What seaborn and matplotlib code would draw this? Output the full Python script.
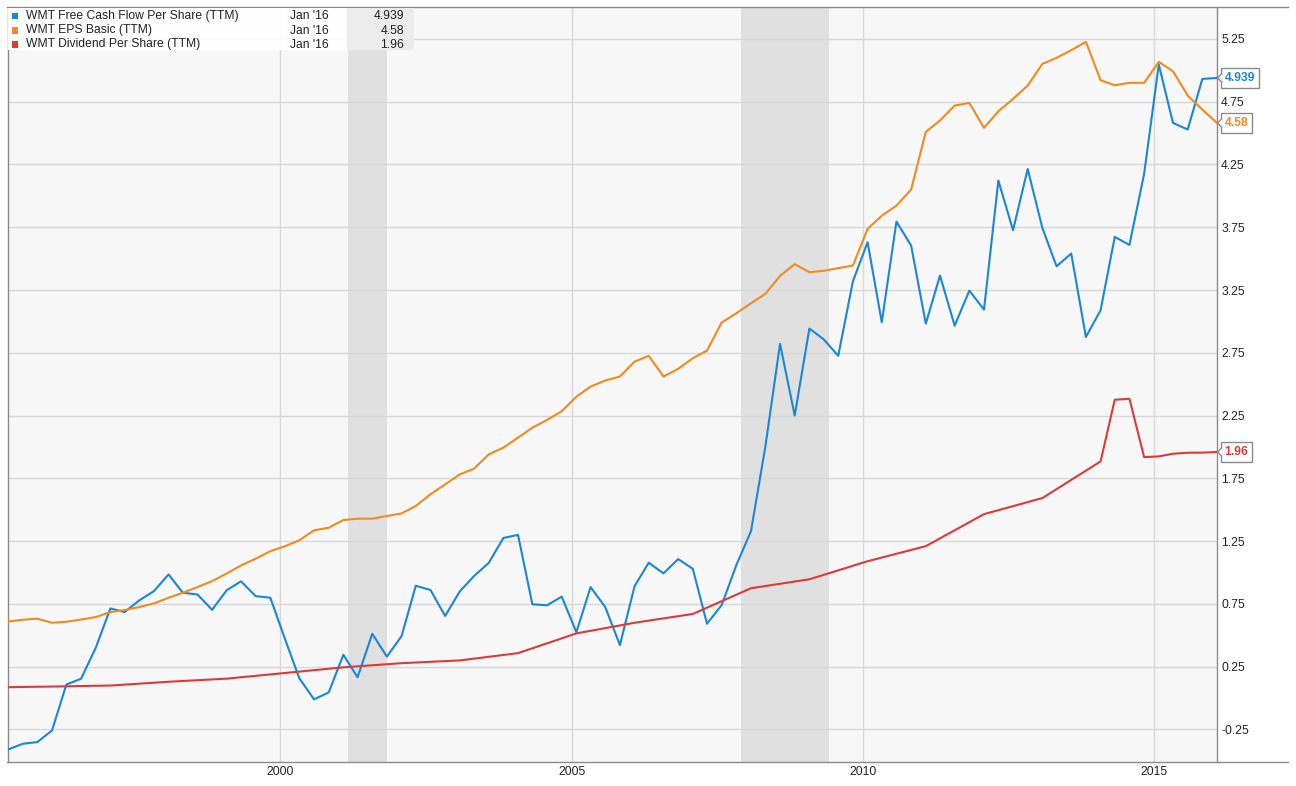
import numpy as np
import pandas as pd
import matplotlib
matplotlib.use("Agg")
import matplotlib.pyplot as plt
import matplotlib.dates as mdates
from matplotlib.lines import Line2D
from matplotlib.patches import Rectangle, Polygon
import seaborn as sns

# ---------------- data ----------------
quarter_dates = pd.date_range("1995-04-30", periods=84, freq="3ME")

fcf_per_share = [
    -0.41, -0.364, -0.35, -0.258, 0.108, 0.154, 0.40, 0.714, 0.685, 0.778,
    0.852, 0.985, 0.839, 0.825, 0.703, 0.86, 0.93, 0.812, 0.799, 0.47,
    0.157, -0.010, 0.045, 0.345, 0.166, 0.512, 0.33, 0.494, 0.895, 0.861,
    0.654, 0.85, 0.972, 1.076, 1.275, 1.30, 0.747, 0.739, 0.808, 0.525,
    0.884, 0.725, 0.422, 0.892, 1.078, 0.993, 1.107, 1.03, 0.592, 0.740,
    1.059, 1.33, 2.003, 2.821, 2.25, 2.943, 2.858, 2.726, 3.32, 3.63,
    2.993, 3.795, 3.604, 2.982, 3.365, 2.966, 3.245, 3.094, 4.122, 3.726,
    4.214, 3.744, 3.439, 3.54, 2.876, 3.089, 3.673, 3.609, 4.175, 5.046,
    4.581, 4.528, 4.931, 4.939,
]

eps_basic = [
    0.610, 0.624, 0.632, 0.600, 0.608, 0.626, 0.645, 0.685, 0.701, 0.725,
    0.754, 0.799, 0.839, 0.884, 0.932, 0.993, 1.056, 1.11, 1.17, 1.21,
    1.257, 1.336, 1.357, 1.418, 1.429, 1.429, 1.45, 1.471, 1.53, 1.623,
    1.702, 1.782, 1.827, 1.941, 1.995, 2.074, 2.154, 2.215, 2.285, 2.40,
    2.481, 2.529, 2.561, 2.68, 2.726, 2.561, 2.622, 2.707, 2.768, 2.991,
    3.065, 3.145, 3.219, 3.363, 3.456, 3.392, 3.403, 3.424, 3.445, 3.736,
    3.842, 3.922, 4.05, 4.509, 4.6, 4.719, 4.74, 4.541, 4.674, 4.772,
    4.878, 5.051, 5.099, 5.16, 5.226, 4.921, 4.881, 4.9, 4.9, 5.067,
    4.992, 4.799, 4.687, 4.58,
]

div_dates = pd.to_datetime([
    "1995-04-30", "1996-01-31", "1997-01-31", "1998-01-31", "1999-01-31",
    "2000-01-31", "2001-01-31", "2002-01-31", "2003-01-31", "2004-01-31",
    "2005-01-31", "2006-01-31", "2007-01-31", "2008-01-31", "2009-01-31",
    "2010-01-31", "2011-01-31", "2012-01-31", "2013-01-31", "2014-01-31",
    "2014-04-30", "2014-07-31", "2014-10-31", "2015-01-31", "2015-04-30",
    "2015-07-31", "2015-10-31", "2016-01-31",
])
dividend_per_share = [
    0.087, 0.092, 0.10, 0.13, 0.155, 0.20, 0.245, 0.278, 0.30, 0.358,
    0.515, 0.60, 0.67, 0.875, 0.946, 1.09, 1.21, 1.465, 1.593, 1.885,
    2.376, 2.384, 1.919, 1.925, 1.946, 1.954, 1.955, 1.96,
]

series_names = [
    "WMT Free Cash Flow Per Share (TTM)",
    "WMT EPS Basic (TTM)",
    "WMT Dividend Per Share (TTM)",
]
legend_dates = ["Jan '16", "Jan '16", "Jan '16"]
legend_values = ["4.939", "4.58", "1.96"]
colors = ["#1a86d8", "#f28a1e", "#dc3a3a"]

recessions = [("2001-03-01", "2001-11-01"), ("2007-12-01", "2009-06-01")]
year_ticks = ["2000", "2005", "2010", "2015"]
y_ticks = [-0.25, 0.25, 0.75, 1.25, 1.75, 2.25, 2.75, 3.25, 3.75, 4.25, 4.75, 5.25]

# ---------------- figure ----------------
sns.set_theme(style="white")
plt.rcParams["font.family"] = ["Liberation Sans", "DejaVu Sans"]

FS = 8.7
W, H = 1296, 786
fig = plt.figure(figsize=(W / 100, H / 100), dpi=100)
L, R, T, B = 8, 1217, 7, 762
ax = fig.add_axes([L / W, 1 - B / H, (R - L) / W, (B - T) / H])
ax.set_facecolor("#f7f7f7")

df = pd.concat([
    pd.DataFrame({"date": quarter_dates, "value": fcf_per_share, "series": series_names[0]}),
    pd.DataFrame({"date": quarter_dates, "value": eps_basic, "series": series_names[1]}),
    pd.DataFrame({"date": div_dates, "value": dividend_per_share, "series": series_names[2]}),
], ignore_index=True)

palette = dict(zip(series_names, colors))
sns.lineplot(data=df, x="date", y="value", hue="series", hue_order=series_names,
             palette=palette, estimator=None, linewidth=1.5, legend=False, ax=ax, zorder=3)

for a, b in recessions:
    ax.axvspan(mdates.date2num(pd.Timestamp(a)), mdates.date2num(pd.Timestamp(b)),
               color="#e0e0e0", lw=0, zorder=0.2)

ax.set_xlim(mdates.date2num(quarter_dates[0]), mdates.date2num(quarter_dates[-1]))
ax.set_ylim(-0.509, 5.504)

ax.set_xticks([mdates.date2num(pd.Timestamp(f"{y}-01-01")) for y in year_ticks])
ax.set_xticklabels(year_ticks)
ax.yaxis.tick_right()
ax.set_yticks(y_ticks)
ax.set_yticklabels([f"{v:.2f}" for v in y_ticks])
ax.tick_params(axis="both", length=0, labelsize=FS, colors="#222222")
ax.tick_params(axis="y", pad=3)
ax.tick_params(axis="x", pad=3)
ax.set_xlabel("")
ax.set_ylabel("")

ax.grid(True, color="#d8d8d8", lw=1.0)
ax.set_axisbelow(True)

spine_c = "#8a8a8a"
for s in ["top", "bottom"]:
    ax.spines[s].set_visible(False)
for s in ["left", "right"]:
    ax.spines[s].set_visible(True)
    ax.spines[s].set_color(spine_c)
    ax.spines[s].set_linewidth(1.0)

# top / bottom frame lines extending past the axis labels
for yy in (T, B):
    fig.add_artist(Line2D([7 / W, 1288 / W], [1 - yy / H, 1 - yy / H],
                          transform=fig.transFigure, color=spine_c, lw=1.0))

# right-side last-value labels
last_vals = [fcf_per_share[-1], eps_basic[-1], dividend_per_share[-1]]
xr = mdates.date2num(quarter_dates[-1])
for val, col, txt in zip(last_vals, colors, legend_values):
    ax.annotate(txt, xy=(1, val), xycoords=("axes fraction", "data"),
                xytext=(5.5, 0), textcoords="offset points", ha="left", va="center",
                fontsize=FS, fontweight="bold", color=col, annotation_clip=False,
                bbox=dict(boxstyle="square,pad=0.3", fc="white", ec=spine_c, lw=1.0),
                zorder=6)
    px, py = ax.transData.transform((xr, val))
    poly = Polygon([(px + 5.0, py + 4.5), (px + 0.5, py), (px + 5.0, py - 4.5)],
                   closed=False, transform=None, fc="white", ec=spine_c, lw=1.0, zorder=10)
    fig.add_artist(poly)

# legend table (top-left)
def fx(x):
    return x / W

def fy(y):
    return 1 - y / H

fig.add_artist(Rectangle((fx(8), fy(50)), fx(414) - fx(8), fy(8) - fy(50),
                         transform=fig.transFigure, fc="white", ec="none", alpha=0.95, zorder=4))
fig.add_artist(Rectangle((fx(347), fy(50)), fx(414) - fx(347), fy(8) - fy(50),
                         transform=fig.transFigure, fc="#ececec", ec="none", zorder=4.5))
row_y = [16, 30.5, 44.5]
for yy, name, d, v, col in zip(row_y, series_names, legend_dates, legend_values, colors):
    fig.add_artist(Rectangle((fx(12), fy(yy + 3)), fx(18) - fx(12), fy(yy - 3) - fy(yy + 3),
                             transform=fig.transFigure, fc=col, ec="none", zorder=5))
    fig.text(fx(26), fy(yy), name, ha="left", va="center", fontsize=FS, color="#222222", zorder=5)
    fig.text(fx(290), fy(yy), d, ha="left", va="center", fontsize=FS, color="#222222", zorder=5)
    fig.text(fx(404), fy(yy), v, ha="right", va="center", fontsize=FS, color="#222222", zorder=5)

fig.savefig("out.png", dpi=100, facecolor="white")
